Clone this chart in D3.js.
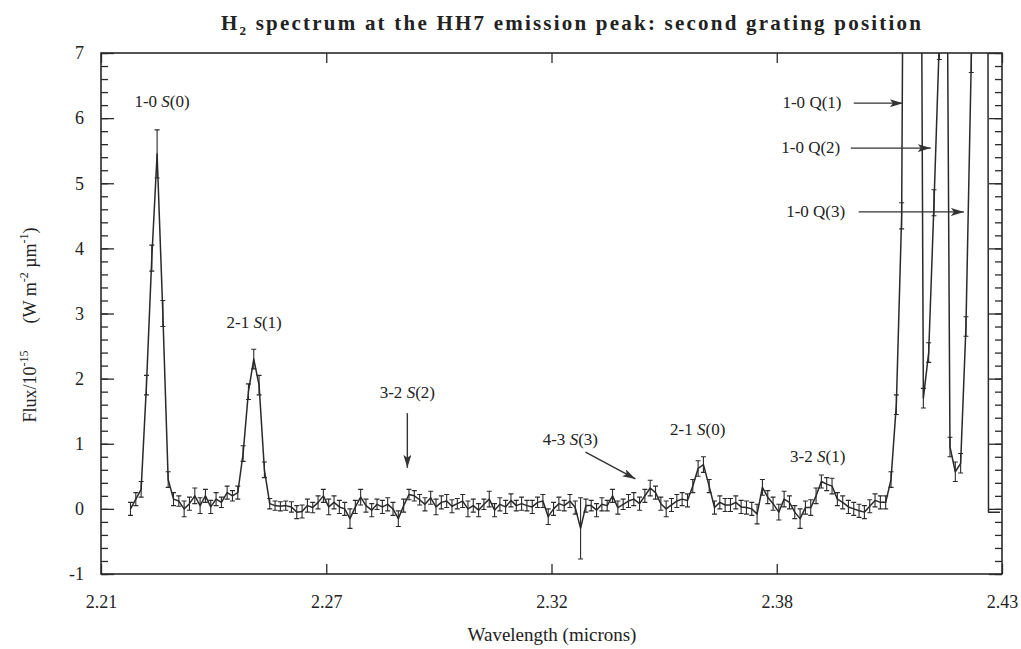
<!DOCTYPE html>
<html>
<head>
<meta charset="utf-8">
<script src="https://d3js.org/d3.v7.min.js"></script>
<style>
  body { margin: 0; background: #fff; }
  text { font-family: "Liberation Serif", "DejaVu Serif", serif; fill: #222; }
</style>
</head>
<body>
<div id="chart"></div>
<script>
// wavelength (microns), flux (1e-15 W m-2 um-1) and 1-sigma errors
const wavelength = [
  2.2172, 2.2185, 2.2198, 2.2211, 2.2224, 2.2237, 2.2251, 2.2264, 2.2277, 2.2290,
  2.2303, 2.2316, 2.2329, 2.2342, 2.2355, 2.2368, 2.2381, 2.2394, 2.2408, 2.2421,
  2.2434, 2.2447, 2.2460, 2.2473, 2.2486, 2.2499, 2.2512, 2.2525, 2.2538, 2.2551,
  2.2565, 2.2578, 2.2591, 2.2604, 2.2617, 2.2630, 2.2643, 2.2656, 2.2669, 2.2682,
  2.2695, 2.2708, 2.2721, 2.2734, 2.2747, 2.2761, 2.2774, 2.2787, 2.2800, 2.2813,
  2.2826, 2.2839, 2.2852, 2.2865, 2.2878, 2.2891, 2.2905, 2.2918, 2.2931, 2.2944,
  2.2957, 2.2970, 2.2983, 2.2996, 2.3009, 2.3022, 2.3035, 2.3048, 2.3061, 2.3074,
  2.3088, 2.3101, 2.3114, 2.3127, 2.3140, 2.3153, 2.3166, 2.3179, 2.3192, 2.3205,
  2.3218, 2.3231, 2.3245, 2.3258, 2.3271, 2.3284, 2.3297, 2.3310, 2.3323, 2.3336,
  2.3349, 2.3362, 2.3375, 2.3388, 2.3401, 2.3415, 2.3428, 2.3441, 2.3454, 2.3467,
  2.3480, 2.3493, 2.3506, 2.3519, 2.3532, 2.3545, 2.3558, 2.3571, 2.3585, 2.3598,
  2.3611, 2.3624, 2.3637, 2.3650, 2.3663, 2.3676, 2.3689, 2.3702, 2.3715, 2.3728,
  2.3741, 2.3755, 2.3768, 2.3781, 2.3794, 2.3807, 2.3820, 2.3833, 2.3846, 2.3859,
  2.3872, 2.3885, 2.3898, 2.3911, 2.3925, 2.3938, 2.3951, 2.3964, 2.3977, 2.3990,
  2.4003, 2.4016, 2.4029, 2.4042, 2.4055, 2.4068, 2.4082, 2.4095, 2.4108, 2.4121,
  2.4134, 2.4147, 2.4160, 2.4173, 2.4186, 2.4199, 2.4212, 2.4225, 2.4238, 2.4251,
  2.4265, 2.4267, 2.4295
];

const flux = [
  0.0, 0.15, 0.3, 1.9, 3.85, 5.45, 3.0, 0.45, 0.15, 0.12,
  0.0, 0.08, 0.2, 0.05, 0.2, 0.03, 0.15, 0.1, 0.25, 0.2,
  0.25, 0.85, 1.8, 2.3, 1.9, 0.6, 0.08, 0.05, 0.04, 0.05,
  0.03, -0.05, -0.04, 0.05, 0.02, 0.1, 0.2, 0.03, 0.1, 0.03,
  0.0, -0.15, 0.03, 0.18, 0.05, -0.02, 0.07, 0.03, 0.07, 0.0,
  -0.15, 0.05, 0.22, 0.2, 0.14, 0.07, 0.17, 0.03, 0.1, 0.12,
  0.04, 0.08, 0.12, 0.0, 0.05, -0.02, 0.07, 0.15, -0.02, 0.07,
  0.03, 0.13, 0.05, 0.08, 0.05, 0.03, 0.1, 0.12, -0.12, 0.0,
  0.08, 0.05, 0.12, 0.02, -0.3, 0.05, 0.05, -0.02, 0.07, 0.05,
  0.2, 0.02, 0.07, 0.12, 0.15, 0.08, 0.2, 0.32, 0.25, 0.08,
  0.0, 0.06, 0.12, 0.15, 0.13, 0.35, 0.62, 0.68, 0.35, 0.02,
  0.1, 0.06, 0.06, 0.1, 0.03, 0.02, 0.0, -0.08, 0.33, 0.18,
  0.08, -0.05, 0.15, 0.1, -0.05, -0.15, 0.02, 0.02, 0.2, 0.42,
  0.38, 0.35, 0.15, 0.1, 0.03, 0.0, -0.03, -0.05, 0.04, 0.13,
  0.1, 0.1, 0.45, 1.6, 4.5, 20, 25, 20, 1.7, 2.4,
  4.7, 7.2, 15, 0.95, 0.57, 0.7, 2.8, 6.9, 12, 12,
  12, -0.05, -0.05
];

const fluxErr = [
  0.1, 0.1, 0.12, 0.15, 0.2, 0.37, 0.2, 0.12, 0.1, 0.08,
  0.12, 0.1, 0.12, 0.12, 0.1, 0.1, 0.1, 0.08, 0.1, 0.08,
  0.1, 0.12, 0.12, 0.15, 0.15, 0.12, 0.08, 0.07, 0.07, 0.07,
  0.08, 0.1, 0.1, 0.1, 0.08, 0.1, 0.1, 0.12, 0.1, 0.1,
  0.1, 0.15, 0.1, 0.12, 0.1, 0.1, 0.08, 0.1, 0.1, 0.1,
  0.12, 0.1, 0.08, 0.08, 0.08, 0.1, 0.1, 0.12, 0.1, 0.1,
  0.1, 0.08, 0.1, 0.12, 0.1, 0.1, 0.08, 0.12, 0.1, 0.1,
  0.1, 0.1, 0.08, 0.1, 0.08, 0.1, 0.08, 0.1, 0.12, 0.1,
  0.1, 0.08, 0.1, 0.1, 0.47, 0.1, 0.08, 0.1, 0.1, 0.08,
  0.1, 0.1, 0.08, 0.1, 0.1, 0.1, 0.1, 0.12, 0.1, 0.1,
  0.12, 0.1, 0.1, 0.1, 0.1, 0.1, 0.12, 0.12, 0.1, 0.1,
  0.1, 0.1, 0.1, 0.1, 0.1, 0.1, 0.1, 0.15, 0.12, 0.1,
  0.1, 0.12, 0.12, 0.1, 0.1, 0.15, 0.1, 0.12, 0.12, 0.1,
  0.1, 0.12, 0.1, 0.1, 0.1, 0.1, 0.1, 0.1, 0.1, 0.1,
  0.1, 0.1, 0.12, 0.15, 0.2, 0.3, 0.3, 0.3, 0.15, 0.15,
  0.2, 0.3, 0.3, 0.15, 0.15, 0.15, 0.15, 0.2, 0.3, 0.3,
  0.3, 0, 0
];

const xTicks = [2.21, 2.265, 2.32, 2.375, 2.43];
const xTickLabels = ["2.21", "2.27", "2.32", "2.38", "2.43"];
const yTicks = [-1, 0, 1, 2, 3, 4, 5, 6, 7];
const yTickLabels = ["-1", "0", "1", "2", "3", "4", "5", "6", "7"];
const yMinorTicks = d3.range(-10, 71, 2).map(d => d / 10);

const lineNames = ["1-0 S(0)", "2-1 S(1)", "3-2 S(2)", "4-3 S(3)", "2-1 S(0)", "3-2 S(1)", "1-0 Q(1)", "1-0 Q(2)", "1-0 Q(3)"];
const lineLabelX = [2.2249, 2.2474, 2.2848, 2.3246, 2.3557, 2.3850, 2.3836, 2.3833, 2.3845];
const lineLabelY = [6.17, 2.78, 1.70, 0.98, 1.13, 0.72, 6.16, 5.46, 4.48];

// arrows: [x from, y from, x to, y to]
const arrows = [
  [2.2848, 1.47, 2.2848, 0.63],
  [2.3283, 0.87, 2.3405, 0.46],
  [2.3938, 6.23, 2.4058, 6.23],
  [2.3931, 5.54, 2.4126, 5.54],
  [2.3950, 4.56, 2.4207, 4.56]
];

const width = 1021;
const height = 649;
const margin = { top: 53, right: 19, bottom: 75, left: 101 };

const svg = d3.select("#chart")
  .append("svg")
  .attr("width", width)
  .attr("height", height);

const x = d3.scaleLinear()
  .domain([2.21, 2.43])
  .range([margin.left, width - margin.right]);

const y = d3.scaleLinear()
  .domain([-1, 7])
  .range([height - margin.bottom, margin.top]);

const ink = "#2a2a2a";

svg.append("defs").append("clipPath")
  .attr("id", "plot-clip")
  .append("rect")
  .attr("x", margin.left)
  .attr("y", margin.top)
  .attr("width", width - margin.left - margin.right)
  .attr("height", height - margin.top - margin.bottom);

const marker = svg.select("defs").append("marker")
  .attr("id", "arrow")
  .attr("viewBox", "0 0 13 8")
  .attr("refX", 13)
  .attr("refY", 4)
  .attr("markerWidth", 13)
  .attr("markerHeight", 8)
  .attr("markerUnits", "userSpaceOnUse")
  .attr("orient", "auto");
marker.append("path")
  .attr("d", "M0,0 L13,4 L0,8 L3,4 Z")
  .attr("fill", "#333");

// axes (ticks point inward)
function styleAxis(g) {
  g.select(".domain").remove();
  g.selectAll(".tick line").attr("stroke", ink).attr("stroke-width", 1.3);
  g.selectAll(".tick text")
    .attr("font-family", "Liberation Serif, serif")
    .attr("font-size", 18)
    .attr("fill", "#222");
}

svg.append("g")
  .attr("transform", `translate(${margin.left},0)`)
  .call(d3.axisLeft(y).tickValues(yMinorTicks).tickSize(-7).tickFormat(""))
  .call(styleAxis);

svg.append("g")
  .attr("transform", `translate(${margin.left},0)`)
  .call(d3.axisLeft(y).tickValues(yTicks).tickSize(-13).tickPadding(17).tickFormat((d, i) => yTickLabels[i]))
  .call(styleAxis);

svg.append("g")
  .attr("transform", `translate(${width - margin.right},0)`)
  .call(d3.axisRight(y).tickValues(yMinorTicks).tickSize(-7).tickFormat(""))
  .call(styleAxis);

svg.append("g")
  .attr("transform", `translate(${width - margin.right},0)`)
  .call(d3.axisRight(y).tickValues(yTicks).tickSize(-13).tickFormat(""))
  .call(styleAxis);

svg.append("g")
  .attr("transform", `translate(0,${height - margin.bottom})`)
  .call(d3.axisBottom(x).tickValues(xTicks).tickSize(-10).tickPadding(21).tickFormat((d, i) => xTickLabels[i]))
  .call(styleAxis);

svg.append("g")
  .attr("transform", `translate(0,${margin.top})`)
  .call(d3.axisTop(x).tickValues(xTicks).tickSize(-10).tickFormat(""))
  .call(styleAxis);

svg.append("rect")
  .attr("x", margin.left)
  .attr("y", margin.top)
  .attr("width", width - margin.left - margin.right)
  .attr("height", height - margin.top - margin.bottom)
  .attr("fill", "none")
  .attr("stroke", ink)
  .attr("stroke-width", 1.6);

// spectrum with error bars
const data = wavelength.map((w, i) => ({ w: w, f: flux[i], e: fluxErr[i] }));

const plot = svg.append("g").attr("clip-path", "url(#plot-clip)");

plot.append("path")
  .datum(data)
  .attr("fill", "none")
  .attr("stroke", ink)
  .attr("stroke-width", 1.5)
  .attr("stroke-linejoin", "round")
  .attr("d", d3.line().x(d => x(d.w)).y(d => y(d.f)));

plot.append("g")
  .attr("stroke", ink)
  .attr("stroke-width", 1.1)
  .selectAll("path")
  .data(data.filter(d => d.e > 0))
  .join("path")
  .attr("fill", "none")
  .attr("d", d => {
    const cx = x(d.w), lo = y(d.f - d.e), hi = y(d.f + d.e);
    return `M${cx},${lo}V${hi}M${cx - 2.5},${lo}H${cx + 2.5}M${cx - 2.5},${hi}H${cx + 2.5}`;
  });

// line identifications
svg.append("g")
  .selectAll("path")
  .data(arrows)
  .join("path")
  .attr("d", d => `M${x(d[0])},${y(d[1])}L${x(d[2])},${y(d[3])}`)
  .attr("stroke", "#333")
  .attr("stroke-width", 1.4)
  .attr("marker-end", "url(#arrow)");

const labels = svg.append("g")
  .selectAll("text")
  .data(lineNames)
  .join("text")
  .attr("x", (d, i) => x(lineLabelX[i]))
  .attr("y", (d, i) => y(lineLabelY[i]))
  .attr("text-anchor", "middle")
  .attr("font-size", 17);

labels.append("tspan").text(d => d.split(" ")[0] + " ");
labels.append("tspan")
  .attr("font-style", d => d.includes("S(") ? "italic" : "normal")
  .text(d => d.split(" ")[1].charAt(0));
labels.append("tspan").text(d => d.split(" ")[1].slice(1));

// title
const title = svg.append("text")
  .attr("x", 571)
  .attr("y", 30)
  .attr("text-anchor", "middle")
  .attr("font-size", 21)
  .attr("font-weight", "bold")
  .attr("textLength", 700)
  .attr("lengthAdjust", "spacing");
title.append("tspan").text("H");
title.append("tspan").attr("font-size", 13).attr("dy", 5).text("2");
title.append("tspan").attr("dy", -5).text(" spectrum at the HH7 emission peak: second grating position");

// axis titles
svg.append("text")
  .attr("x", 552)
  .attr("y", 641)
  .attr("text-anchor", "middle")
  .attr("font-size", 19)
  .text("Wavelength (microns)");

const yTitle = svg.append("text")
  .attr("transform", "translate(36,325) rotate(-90)")
  .attr("text-anchor", "middle")
  .attr("font-size", 18);
yTitle.append("tspan").text("Flux/10");
yTitle.append("tspan").attr("font-size", 12).attr("dy", -8).text("-15");
yTitle.append("tspan").attr("dy", 8).text("\u2003\u2002(W m");
yTitle.append("tspan").attr("font-size", 12).attr("dy", -8).text("-2");
yTitle.append("tspan").attr("dy", 8).text(" \u00b5m");
yTitle.append("tspan").attr("font-size", 12).attr("dy", -8).text("-1");
yTitle.append("tspan").attr("dy", 8).text(")");
</script>
</body>
</html>
